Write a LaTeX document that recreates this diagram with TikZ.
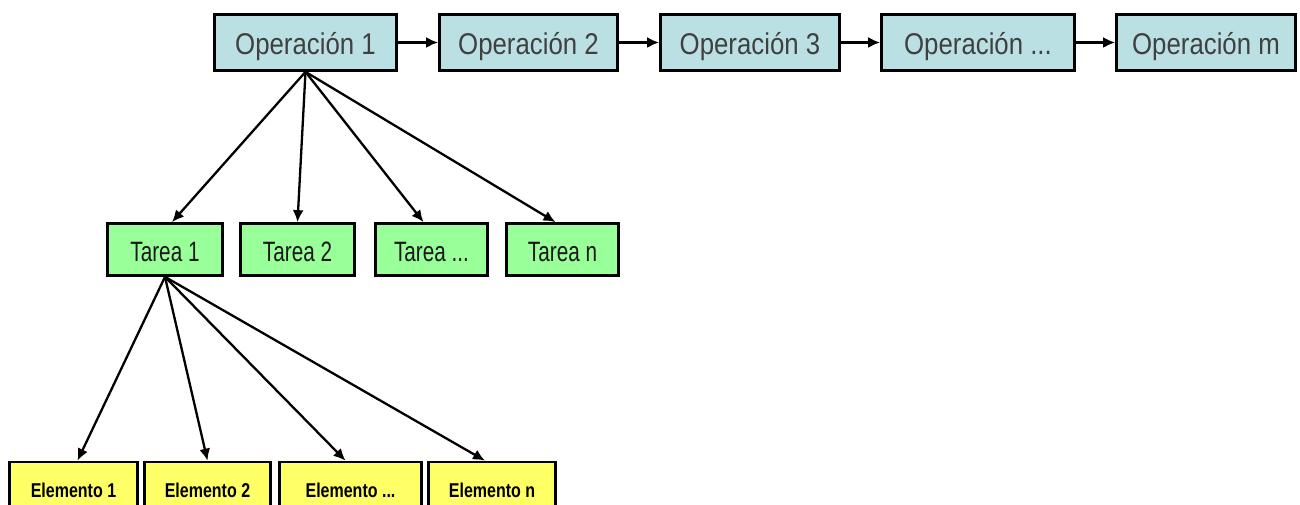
\documentclass[tikz,border=0pt]{standalone}
\usepackage{fontspec}
\setmainfont{Liberation Sans}
\newfontfamily\opfont[FakeStretch=0.86]{Liberation Sans}
\newfontfamily\tareafont[FakeStretch=0.74]{Liberation Sans}
\newfontfamily\elemfont[FakeStretch=0.8]{Liberation Sans}
\usetikzlibrary{arrows.meta}
\definecolor{opfill}{RGB}{187,224,227}
\definecolor{tareafill}{RGB}{153,255,153}
\definecolor{elemfill}{RGB}{255,255,102}
\begin{document}
\begin{tikzpicture}[x=1pt,y=-1pt,
    box/.style={draw=black,line width=2.7pt,inner sep=0pt,anchor=center},
    opbox/.style={box,fill=opfill,text=black!75,minimum height=56pt,
      text height=28pt,text depth=4pt,
      font=\opfont\fontsize{30}{36}\selectfont},
    tareabox/.style={box,fill=tareafill,text=black!90,minimum height=52pt,
      text height=23pt,text depth=0pt,
      font=\tareafont\fontsize{28}{34}\selectfont},
    elembox/.style={box,fill=elemfill,text=black,minimum height=56pt,
      text height=16pt,text depth=2pt,
      font=\elemfont\bfseries\fontsize{20}{24}\selectfont},
    link/.style={line width=2.3pt,-{Latex[length=12pt,width=11pt]}}]
  \useasboundingbox (0,0) rectangle (1300,505);
  \clip (0,0) rectangle (1300,505);
  \fill[white] (0,0) rectangle (1300,505);
  \node[opbox,minimum width=182pt] (op1) at (305.5,42.5) {Operación 1};
  \node[opbox,minimum width=178pt] (op2) at (528.5,42.5) {Operación 2};
  \node[opbox,minimum width=179pt] (op3) at (750,42.5) {Operación 3};
  \node[opbox,minimum width=193pt] (opx) at (978,42.5) {Operación ...};
  \node[opbox,minimum width=179pt] (opm) at (1206,42.5) {Operación m};
  \node[tareabox,minimum width=115pt] (t1) at (165,249.5) {Tarea 1};
  \node[tareabox,minimum width=114pt] (t2) at (297.5,249.5) {Tarea 2};
  \node[tareabox,minimum width=112pt] (tx) at (431.5,249.5) {Tarea ...};
  \node[tareabox,minimum width=112pt] (tn) at (562.5,249.5) {Tarea n};
  \node[elembox,minimum width=128pt] (e1) at (73.5,490) {Elemento 1};
  \node[elembox,minimum width=126pt] (e2) at (207.5,490) {Elemento 2};
  \node[elembox,minimum width=142pt] (ex) at (350.5,490) {Elemento ...};
  \node[elembox,minimum width=127pt] (en) at (492,490) {Elemento n};
  \begin{scope}[link]
    \draw (op1) to (op2);
    \draw (op2) to (op3);
    \draw (op3) to (opx);
    \draw (opx) to (opm);
    \draw (op1.south) to ([xshift=7pt]t1.north);
    \draw (op1.south) to (t2.north);
    \draw (op1.south) to ([xshift=-8pt]tx.north);
    \draw (op1.south) to ([xshift=-7pt]tn.north);
    \draw (t1.south) to ([xshift=4pt]e1.north);
    \draw (t1.south) to (e2.north);
    \draw (t1.south) to ([xshift=-5pt]ex.north);
    \draw (t1.south) to ([xshift=-7pt]en.north);
  \end{scope}
\end{tikzpicture}
\end{document}
